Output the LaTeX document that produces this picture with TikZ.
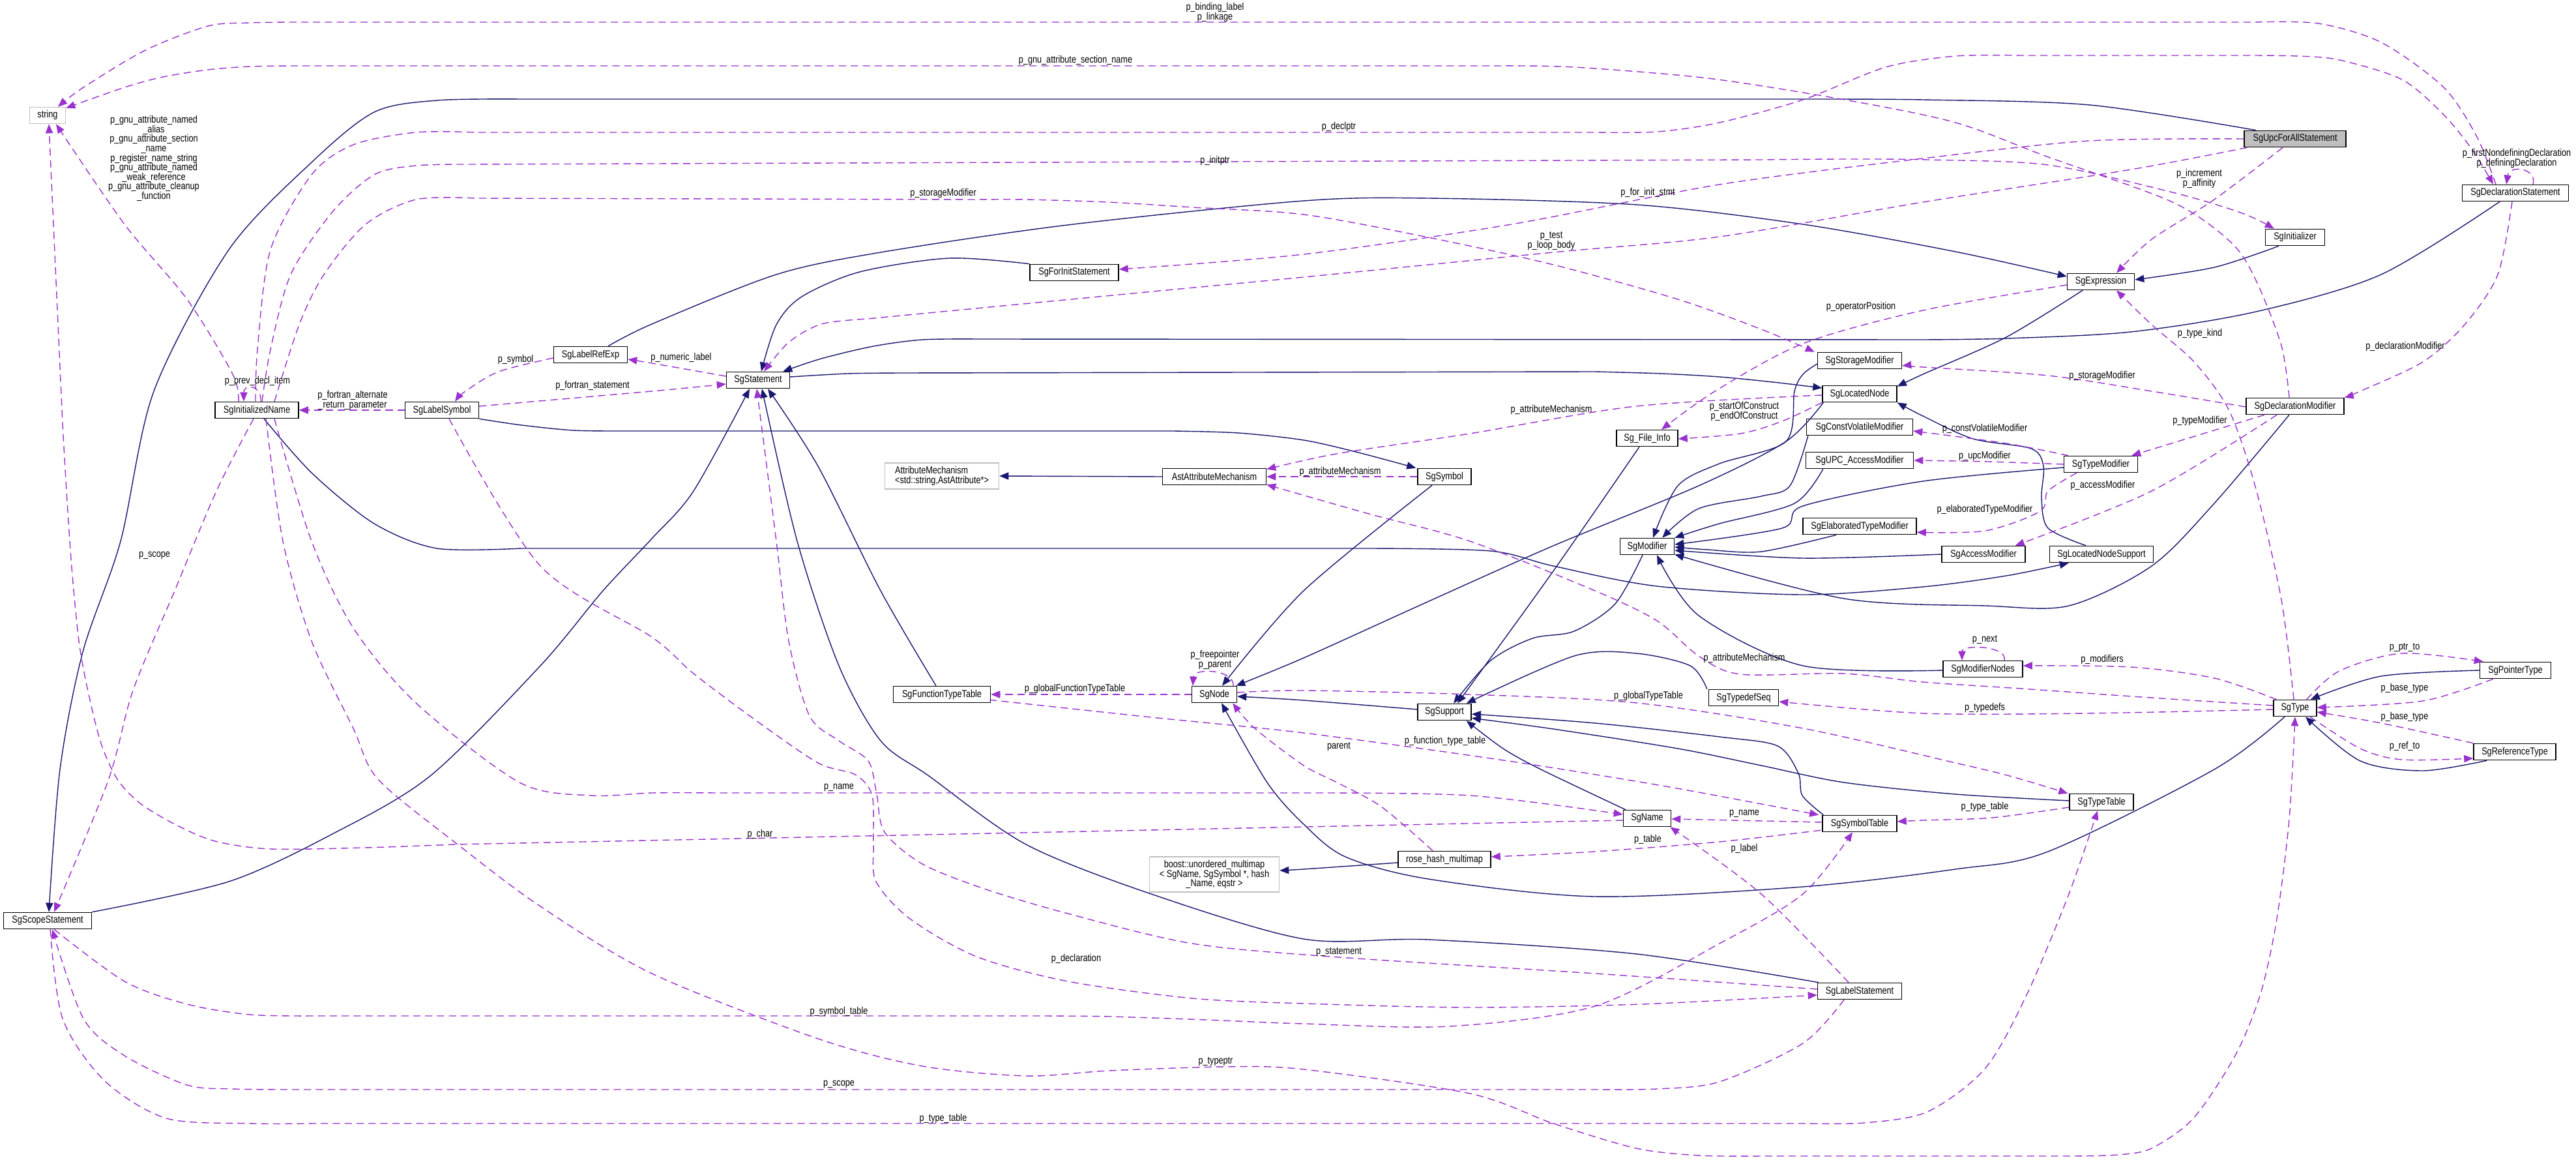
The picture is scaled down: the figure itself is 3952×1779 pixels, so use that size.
\documentclass[tikz,border=0pt]{standalone}
\usepackage{fontspec}
\setmainfont{Liberation Sans}[FakeStretch=0.82]
\usetikzlibrary{arrows.meta,calc}
\definecolor{myNavy}{HTML}{191970}
\definecolor{myPurp}{HTML}{9A32CD}
\definecolor{myGray}{HTML}{BFBFBF}
\newcommand\nodefnt{\fontsize{11}{10.6}\selectfont}
\newcommand\lblfnt{\fontsize{11}{10.6}\selectfont}
\tikzset{
  cls/.style={draw=black, line width=1pt, fill=white, minimum height=0.63cm, inner sep=1pt, font=\nodefnt},
  ext/.style={draw=myGray},
  bw/.style={minimum width=#1*0.025cm},
  inh/.style={draw=myNavy, line width=1pt, -{Triangle[length=10pt,width=8pt]}},
  dep/.style={draw=myPurp, line width=1pt, dash pattern=on 8pt off 5pt, -{Triangle[length=10pt,width=8pt]}},
  lbl/.style={font=\lblfnt, align=center, inner sep=0pt},
  sm/.style={smooth, tension=0.5}
}
\begin{document}
\begin{tikzpicture}[x=0.025cm,y=-0.025cm]
\useasboundingbox (0,0) rectangle (3952,1779);
\fill[white] (0,0) rectangle (3952,1779);
% ---------- nodes ----------
\node[cls,ext,bw=55] (str) at (73,177) {string};
\node[cls,bw=156,fill=myGray] (upc) at (3521,213) {SgUpcForAllStatement};
\node[cls,bw=163] (declst) at (3859,296) {SgDeclarationStatement};
\node[cls,bw=91] (init) at (3521,364) {SgInitializer};
\node[cls,bw=136] (forinit) at (1648,418) {SgForInitStatement};
\node[cls,bw=103] (expr) at (3223,432) {SgExpression};
\node[cls,bw=113] (lref) at (906,544) {SgLabelRefExp};
\node[cls,bw=97] (stmt) at (1163,583) {SgStatement};
\node[cls,bw=129] (stor) at (2853,553) {SgStorageModifier};
\node[cls,bw=128] (iname) at (394,629) {SgInitializedName};
\node[cls,bw=113] (lsym) at (678,629) {SgLabelSymbol};
\node[cls,bw=114] (lnode) at (2853,604) {SgLocatedNode};
\node[cls,bw=94] (finfo) at (2527,672) {Sg\_File\_Info};
\node[cls,bw=163] (cvm) at (2853,655) {SgConstVolatileModifier};
\node[cls,bw=165] (upcacc) at (2853,706) {SgUPC\_AccessModifier};
\node[cls,bw=150] (declmod) at (3521,623) {SgDeclarationModifier};
\node[cls,bw=113] (tmod) at (3223,712) {SgTypeModifier};
\node[cls,ext,bw=175,minimum height=1cm,align=left] (attrm) at (1445,730) {AttributeMechanism\\<std::string,AstAttribute*>};
\node[cls,bw=159] (astattr) at (1863,731) {AstAttributeMechanism};
\node[cls,bw=82] (sym) at (2216,731) {SgSymbol};
\node[cls,bw=174] (elab) at (2853,807) {SgElaboratedTypeModifier};
\node[cls,bw=83] (mod) at (2527,838) {SgModifier};
\node[cls,bw=128] (acc) at (3043,850) {SgAccessModifier};
\node[cls,bw=159] (lns) at (3224,850) {SgLocatedNodeSupport};
\node[cls,bw=122] (modn) at (3042,1026) {SgModifierNodes};
\node[cls,bw=109] (ptr) at (3859,1028) {SgPointerType};
\node[cls,bw=149] (ftt) at (1445,1065) {SgFunctionTypeTable};
\node[cls,bw=69] (sgnode) at (1863,1065) {SgNode};
\node[cls,bw=107] (tds) at (2675,1070) {SgTypedefSeq};
\node[cls,bw=66] (sgtype) at (3521,1086) {SgType};
\node[cls,bw=82] (supp) at (2216,1092) {SgSupport};
\node[cls,bw=126] (ref) at (3858,1153) {SgReferenceType};
\node[cls,bw=98] (ttab) at (3224,1230) {SgTypeTable};
\node[cls,bw=73] (sgname) at (2527,1255) {SgName};
\node[cls,bw=114] (stab) at (2853,1263) {SgSymbolTable};
\node[cls,bw=142] (rhm) at (2216,1318) {rose\_hash\_multimap};
\node[cls,ext,bw=199,minimum height=1.35cm,align=center] (boost) at (1863,1341) {boost::unordered\_multimap\\< SgName, SgSymbol *, hash\\\_Name, eqstr >};
\node[cls,bw=129] (lstmt) at (2853,1520) {SgLabelStatement};
\node[cls,bw=135] (scope) at (73,1412) {SgScopeStatement};
% ---------- inheritance (solid) ----------
\draw[inh] plot[sm] coordinates {($(upc.north)+(-60,0)$) (3206,161) (2950,153) (2750,152)} -- plot[sm] coordinates {(800,152) (670,154) (574,172) (478,249) (351,383) (236,600) (185,830) (127,1000) (92,1180) ($(scope.north)+(2,0)$)};
\draw[inh] plot[sm] coordinates {(scope.north east) (351,1352) (510,1279) (660,1190) (829,1021) (925,906) (1000,826) (1064,753) ($(stmt.south)+(-13,0)$)};
\draw[inh] plot[sm] coordinates {(forinit.north west) (1456,396) (1319,417) (1230,455) (1191,498) ($(stmt.north)+(5,0)$)};
\draw[inh] plot[sm] coordinates {($(declst.south)+(-24,0)$) (3653,421) (3461,478) (3269,509) (3080,519) (2950,521)} -- plot[sm] coordinates {(1500,520) (1415,521) (1340,531) (1260,550) ($(stmt.north east)+(-11,0)$)};
\draw[inh] plot[sm] coordinates {($(lstmt.north west)+(2,0)$) (2510,1463) (2191,1441) (2000,1440) (1766,1371) (1574,1295) (1425,1190) (1351,1136) (1287,1021) (1223,830) ($(stmt.south)+(6,0)$)};
\draw[inh] plot[sm] coordinates {($(ftt.north)+(-9,0)$) (1351,906) (1255,715) ($(stmt.south)+(15,0)$)};
\draw[inh] plot[sm] coordinates {($(stmt.east)+(0,-5)$) (1300,573) (1383,572)} -- plot[sm] coordinates {(2447,570) (2550,573) (2638,578) (2720,586) ($(lnode.west)+(0,-9)$)};
\draw[inh] plot[sm] coordinates {($(expr.south)+(-28,0)$) (3078,517) (2950,574) ($(lnode.north east)+(0,2)$)};
\draw[inh] plot[sm] coordinates {($(lref.north east)+(-30,0)$) (1000,497) (1191,421) (1351,387) (1638,345) (2000,308) (2191,304) (2511,314) (2766,344) (3000,386) ($(expr.west)+(0,-8)$)};
\draw[inh] plot[sm] coordinates {($(init.south)+(-25,0)$) (3397,410) ($(expr.east)+(0,-3)$)};
\draw[inh] plot[sm] coordinates {(lsym.south east) (800,652) (880,660) (960,661)} -- plot[sm] coordinates {(1800,661) (1900,664) (2000,675) (2080,693) ($(sym.north west)+(-2,0)$)};
\draw[inh] plot[sm] coordinates {($(sym.south)+(-19,0)$) (2000,906) ($(sgnode.north)+(12,0)$)};
\draw[inh] plot[sm] coordinates {($(lnode.south west)+(2,0)$) (2740,677) (2606,745) (2383,837) (2190,923) (2000,1009) ($(sgnode.north east)+(-2,0)$)};
\draw[inh] plot[sm] coordinates {($(stor.west)+(0,5)$) (2766,574) (2753,600) (2740,677) (2638,711) (2574,745) ($(mod.north)+(9,0)$)};
\draw[inh] plot[sm] coordinates {($(cvm.south west)+(3,0)$) (2746,745) (2702,761) (2606,780) ($(mod.north east)+(-19,0)$)};
\draw[inh] plot[sm] coordinates {($(upcacc.south west)+(27,0)$) (2753,772) (2638,803) (mod.north east)};
\draw[inh] plot[sm] coordinates {($(tmod.west)+(0,5)$) (2950,738) (2766,776) (2734,810) ($(mod.east)+(0,-3)$)};
\draw[inh] plot[sm] coordinates {($(elab.south west)+(52,0)$) (2702,846) (2620,843) ($(mod.east)+(0,1)$)};
\draw[inh] plot[sm] coordinates {(acc.west) (2766,856) ($(mod.east)+(0,6)$)};
\draw[inh] plot[sm] coordinates {($(declmod.south)+(-9,0)$) (3397,772) (3301,868) (3174,929) (3046,929) (2829,918) ($(mod.south east)+(0,-1)$)};
\draw[inh] plot[sm] coordinates {($(modn.west)+(0,2)$) (2766,1021) (2606,944) ($(mod.south)+(15,0)$)};
\draw[inh] plot[sm] coordinates {($(mod.south)+(-7,0)$) (2478,926) (2415,968) (2351,979) (2287,1013) ($(supp.north)+(14,0)$)};
\draw[inh] plot[sm] coordinates {($(finfo.south)+(-12,0)$) (2380,880) ($(supp.north)+(20,0)$)};
\draw[inh] plot[sm] coordinates {($(tds.north west)+(-2,0)$) (2593,1021) (2510,1002) (2415,1006) ($(supp.north east)+(-8,0)$)};
\draw[inh] plot[sm] coordinates {($(supp.west)+(0,-4)$) (2000,1074) ($(sgnode.east)+(0,3)$)};
\draw[inh] plot[sm] coordinates {($(sgname.north west)+(4,0)$) (2364,1180) (2306,1148) ($(supp.south east)+(-8,0)$)};
\draw[inh] plot[sm] coordinates {($(stab.north west)+(2,0)$) (2765,1220) (2759,1186) (2727,1144) (2638,1130) (2447,1109) ($(supp.east)+(0,3)$)};
\draw[inh] plot[sm] coordinates {($(ttab.west)+(0,-2)$) (3000,1218) (2829,1200) (2702,1174) (2574,1148) (2383,1118) ($(supp.south east)+(0,-4)$)};
\draw[inh] plot[sm] coordinates {($(sgtype.south)+(-16,0)$) (3397,1180) (3142,1306) (3000,1333) (2766,1360) (2447,1375) (2191,1348) (2064,1314) (2000,1264) (1944,1200) ($(sgnode.south)+(11,0)$)};
\draw[inh] plot[sm] coordinates {($(rhm.west)+(0,5)$) (2000,1333) ($(boost.east)+(0,-6)$)};
\draw[inh] (astattr.west) -- (attrm.east);
\draw[inh] plot[sm] coordinates {($(lns.north)+(-24,0)$) (3142,810) (3132,764) (3135,715) (3116,688) (3027,673) (2950,638) (lnode.south east)};
\draw[inh] plot[sm] coordinates {($(iname.south)+(11,0)$) (479,726) (574,803) (670,841) (800,841)} -- plot[sm] coordinates {(2100,841) (2287,845) (2383,868) (2542,899) (2766,912) (2950,900) (3078,883) ($(lns.south west)+(30,0)$)};
\draw[inh] plot[sm] coordinates {(ptr.west) (3653,1037) ($(sgtype.north east)+(-10,0)$)};
\draw[inh] plot[sm] coordinates {($(ref.south west)+(21,0)$) (3717,1182) (3621,1167) ($(sgtype.south)+(16,0)$)};
% ---------- usage (dashed) ----------
\draw[dep] plot[sm] coordinates {($(declst.north)+(-30,0)$) (3800,210) (3749,134) (3653,65) (3557,36) (3460,34)} -- plot[sm] coordinates {(450,34) (383,35) (319,40) (223,77) (128,134) ($(str.north)+(16,0)$)};
\draw[dep] plot[sm] coordinates {($(declmod.north)+(-9,0)$) (3500,530) (3461,430) (3423,372) (3333,310) (3140,240) (3000,188) (2830,153) (2620,120) (2415,103) (2300,101)} -- plot[sm] coordinates {(450,101) (383,102) (319,107) (250,118) (191,134) ($(str.north east)+(0,2)$)};
\draw[dep] plot[sm] coordinates {($(iname.north)+(-2,0)$) (395,536) (415,383) (478,268) (542,222) (638,203) (730,203)} -- plot[sm] coordinates {(2450,203) (2543,202) (2638,188) (2766,153) (2893,103) (3000,86) (3100,85)} -- plot[sm] coordinates {(3450,85) (3525,86) (3589,92) (3685,122) (3749,176) (3793,230) ($(declst.north)+(-34,0)$)};
\draw[dep] plot[sm] coordinates {($(iname.north)+(8,0)$) (415,536) (446,421) (510,325) (574,268) (638,254) (720,252)} -- plot[sm] coordinates {(2700,245) (2829,244) (2957,245) (3142,253) (3333,295) (3440,327) ($(init.north west)+(14,0)$)};
\draw[dep] plot[sm] coordinates {($(iname.north)+(27,0)$) (459,498) (497,421) (561,344) (638,306) (730,304)} -- plot[sm] coordinates {(1500,306) (1574,306) (1700,310) (1830,318) (2000,329) (2191,364) (2383,406) (2574,459) (2702,505) ($(stor.north west)+(-4,0)$)};
\draw[dep] plot[sm] coordinates {($(iname.north)+(-28,0)$) (357,574) (287,459) (191,344) ($(str.south)+(13,0)$)};
\draw[dep] ($(iname.north)+(6,0)$) .. controls (402,590) and (374,588) .. ($(iname.north)+(-20,0)$);
\draw[dep] (lsym.west) -- (iname.east);
\draw[dep] plot[sm] coordinates {($(lref.west)+(0,5)$) (765,570) (714,600) ($(lsym.north)+(20,0)$)};
\draw[dep] plot[sm] coordinates {($(lsym.east)+(0,-6)$) (1000,600) ($(stmt.west)+(0,6)$)};
\draw[dep] plot[sm] coordinates {($(stmt.west)+(0,-6)$) (1000,557) ($(lref.east)+(0,7)$)};
\draw[dep] plot[sm] coordinates {(upc.west) (3205,216) (2950,243) (2638,283) (2319,344) (2000,390) ($(forinit.east)+(0,-5)$)};
\draw[dep] plot[sm] coordinates {($(upc.south west)+(5,0)$) (3269,260) (2950,310) (2638,363) (2383,387) (2000,425) (1800,444)} -- plot[sm] coordinates {(1330,489) (1260,497) (1210,525) ($(stmt.north)+(9,0)$)};
\draw[dep] plot[sm] coordinates {($(upc.south)+(-19,0)$) (3397,306) (3301,367) ($(expr.north)+(24,0)$)};
\draw[dep] plot[sm] coordinates {($(expr.west)+(0,5)$) (2950,476) (2766,527) (2631,600) ($(finfo.north)+(22,0)$)};
\draw[dep] plot[sm] coordinates {($(declmod.west)+(0,1)$) (3301,600) (3142,576) (2950,563) ($(stor.east)+(0,8)$)};
\draw[dep] plot[sm] coordinates {($(declst.south)+(-5,0)$) (3832,421) (3781,498) (3717,555) (3621,600) (declmod.north east)};
\draw[dep] plot[sm] coordinates {($(sgtype.north)+(-2,0)$) (3500,920) (3461,750) (3420,630) (3366,555) (3301,498) ($(expr.south)+(24,0)$)};
\draw[dep] plot[sm] coordinates {($(tmod.north west)+(7,0)$) (3078,680) ($(cvm.east)+(0,6)$)};
\draw[dep] plot[sm] coordinates {(tmod.west) (3050,708) (upcacc.east)};
\draw[dep] ($(declmod.south)+(-47,0)$) -- ($(tmod.north east)+(-10,0)$);
\draw[dep] plot[sm] coordinates {($(declmod.south)+(-28,0)$) (3301,753) ($(acc.north east)+(-16,0)$)};
\draw[dep] plot[sm] coordinates {($(tmod.south)+(-37,0)$) (3142,753) (3130,784) (3046,814) ($(elab.south east)+(0,-4)$)};
\draw[dep] ($(modn.north)+(33,0)$) .. controls (3080,990) and (3010,988) .. ($(modn.north)+(-32,0)$);
\draw[dep] plot[sm] coordinates {($(sgtype.north west)+(5,0)$) (3397,1040) (3269,1023) ($(modn.east)+(0,-5)$)};
\draw[dep] plot[sm] coordinates {($(sgtype.west)+(0,-4)$) (3300,1070) (3100,1056) (2950,1046) (2829,1033) (2670,1034) (2606,1006) (2542,952) (2447,906) (2255,830) (2100,788) ($(astattr.south east)+(0,-1)$)};
\draw[dep] plot[sm] coordinates {($(sgtype.west)+(0,2)$) (3200,1094) (2950,1094) ($(tds.east)+(0,6)$)};
\draw[dep] plot[sm] coordinates {($(sgtype.north east)+(-16,0)$) (3589,1029) (3685,1002) ($(ptr.north west)+(6,0)$)};
\draw[dep] plot[sm] coordinates {($(ptr.south west)+(21,0)$) (3717,1075) ($(sgtype.east)+(0,-1)$)};
\draw[dep] plot[sm] coordinates {(ref.north west) (3653,1109) ($(sgtype.east)+(0,6)$)};
\draw[dep] plot[sm] coordinates {($(sgtype.south)+(23,0)$) (3621,1148) (3685,1165) ($(ref.west)+(0,10)$)};
\draw[dep] plot[sm] coordinates {($(lnode.west)+(0,2)$) (2510,623) (2255,665) (2050,696) ($(astattr.north east)+(0,2)$)};
\draw[dep] plot[sm] coordinates {(lnode.south west) (2734,646) (2670,665) ($(finfo.east)+(0,1)$)};
\draw[dep] (sym.west) -- (astattr.east);
\draw[dep] (sgnode.west) -- (ftt.east);
\draw[dep] ($(sgnode.north east)+(-6,0)$) .. controls (1893,1026) and (1832,1024) .. ($(sgnode.north west)+(2,0)$);
\draw[dep] plot[sm] coordinates {($(sgnode.east)+(0,-3)$) (2000,1059) (2255,1065) (2511,1078) (2766,1117) (3000,1170) (3083,1190) ($(ttab.north west)+(-2,0)$)};
\draw[dep] plot[sm] coordinates {($(ftt.south east)+(-2,-5)$) (1766,1100) (2000,1124) (2300,1165) (2550,1205) ($(stab.north west)+(-5,0)$)};
\draw[dep] plot[sm] coordinates {($(rhm.north)+(-18,0)$) (2119,1237) (2051,1200) (2000,1174) (1925,1117) ($(sgnode.south east)+(-7,0)$)};
\draw[dep] ($(stab.west)+(0,-2)$) -- ($(sgname.east)+(0,1)$);
\draw[dep] plot[sm] coordinates {($(stab.south west)+(-2,-3)$) (2638,1291) (2447,1306) ($(rhm.east)+(0,-4)$)};
\draw[dep] plot[sm] coordinates {($(lstmt.north)+(-17,0)$) (2702,1371) ($(sgname.south east)+(-2,0)$)};
\draw[dep] plot[sm] coordinates {($(ttab.west)+(0,8)$) (3057,1254) (2950,1258) ($(stab.east)+(0,-3)$)};
\draw[dep] plot[sm] coordinates {($(iname.south)+(27,0)$) (478,830) (542,963) (638,1078) (797,1200) (906,1220) (1000,1216) (1100,1216)} -- plot[sm] coordinates {(2000,1216) (2255,1220) ($(sgname.west)+(0,-6)$)};
\draw[dep] ($(sgname.west)+(0,3)$) -- plot[sm] coordinates {(700,1295) (560,1300) (415,1302) (330,1290) (270,1265) (215,1232) (180,1195) (155,1140) (135,1060) (121,983) (110,870) (102,753) (96,650)} -- ($(str.south)+(2,0)$);
\draw[dep] plot[sm] coordinates {($(iname.south)+(-5,0)$) (332,753) (268,906) (204,1059) (166,1197) ($(scope.north)+(10,0)$)};
\draw[dep] plot[sm] coordinates {($(iname.south)+(14,0)$) (434,830) (478,983) (542,1117) (580,1195) (702,1295) (829,1390) (1000,1493) (1255,1593) (1415,1635) (1574,1650) (1702,1642) (1880,1636) (2000,1640) (2255,1677) (2383,1723) (2510,1761) (2606,1772) (2700,1773)} -- plot[sm] coordinates {(3180,1773) (3250,1771) (3301,1761) (3365,1715) (3429,1619) (3468,1524) (3493,1409) (3512,1256) (sgtype.south)};
\draw[dep] plot[sm] coordinates {($(scope.south)+(10,0)$) (191,1505) (287,1540) (383,1556) (480,1558)} -- plot[sm] coordinates {(1600,1558) (1702,1559) (1850,1564) (2000,1570) (2223,1574) (2447,1543) (2638,1447) (2766,1371) ($(stab.south)+(-11,0)$)};
\draw[dep] plot[sm] coordinates {($(lstmt.south)+(-24,0)$) (2766,1600) (2638,1659) (2542,1670) (2450,1671)} -- plot[sm] coordinates {(440,1671) (357,1670) (287,1664) (191,1619) (128,1562) ($(scope.south)+(7,0)$)};
\draw[dep] plot[sm] coordinates {($(scope.south)+(4,0)$) (96,1562) (160,1657) (255,1715) (383,1723) (480,1723)} -- plot[sm] coordinates {(2770,1723) (2861,1722) (2957,1705) (3046,1638) (3110,1524) (3174,1371) ($(ttab.south)+(-6,0)$)};
\draw[dep] plot[sm] coordinates {($(lstmt.west)+(0,-3)$) (2447,1493) (2054,1468) (1829,1447) (1638,1401) (1510,1363) (1415,1325) (1357,1276) (1345,1218) (1332,1167) (1287,1136) (1242,1098) (1210,983) (1191,830) ($(stmt.south)+(-2,0)$)};
\draw[dep] plot[sm] coordinates {($(lsym.south)+(11,0)$) (829,868) (1000,977) (1064,1033) (1160,1105) (1255,1170) (1312,1188) (1338,1220) (1340,1295) (1344,1352) (1396,1409) (1498,1467) (1638,1505) (1829,1531) (2000,1539) (2255,1545) (2520,1540) ($(lstmt.west)+(0,6)$)};
\draw[dep] ($(declst.north)+(27,0)$) .. controls (3893,258) and (3850,252) .. ($(declst.north)+(-14,0)$);
% ---------- labels ----------
\node[lbl] (L1) at (1864,19) {p\_binding\_label\\p\_linkage};
\node[lbl] (L2) at (1650,93) {p\_gnu\_attribute\_section\_name};
\node[lbl] (L3) at (2054,195) {p\_declptr};
\node[lbl] (L4) at (1864,247) {p\_initptr};
\node[lbl] (L5) at (1447,297) {p\_storageModifier};
\node[lbl,font=\fontsize{11}{10.4}\selectfont] (L6) at (236,243) {p\_gnu\_attribute\_named\\\_alias\\p\_gnu\_attribute\_section\\\_name\\p\_register\_name\_string\\p\_gnu\_attribute\_named\\\_weak\_reference\\p\_gnu\_attribute\_cleanup\\\_function};
\node[lbl] (L7) at (395,584) {p\_prev\_decl\_item};
\node[lbl] (L8) at (541,614) {p\_fortran\_alternate\\\_return\_parameter};
\node[lbl] (L9) at (791,551) {p\_symbol};
\node[lbl] (L10) at (909,592) {p\_fortran\_statement};
\node[lbl] (L11) at (1045,549) {p\_numeric\_label};
\node[lbl] (L12) at (2528,296) {p\_for\_init\_stmt};
\node[lbl] (L13) at (2380,370) {p\_test\\p\_loop\_body};
\node[lbl] (L14) at (3374,274) {p\_increment\\p\_affinity};
\node[lbl] (L15) at (2855,471) {p\_operatorPosition};
\node[lbl] (L16) at (3225,576) {p\_storageModifier};
\node[lbl] (L17) at (3690,531) {p\_declarationModifier};
\node[lbl] (L18) at (3375,512) {p\_type\_kind};
\node[lbl] (L19) at (3045,657) {p\_constVolatileModifier};
\node[lbl] (L20) at (3045,699) {p\_upcModifier};
\node[lbl] (L21) at (3375,645) {p\_typeModifier};
\node[lbl] (L22) at (3226,744) {p\_accessModifier};
\node[lbl] (L23) at (3045,781) {p\_elaboratedTypeModifier};
\node[lbl] (L24) at (3045,981) {p\_next};
\node[lbl] (L25) at (3225,1011) {p\_modifiers};
\node[lbl] (L26) at (2676,1009) {p\_attributeMechanism};
\node[lbl] (L27) at (3045,1085) {p\_typedefs};
\node[lbl] (L28) at (3689,993) {p\_ptr\_to};
\node[lbl] (L29) at (3689,1055) {p\_base\_type};
\node[lbl] (L30) at (3689,1099) {p\_base\_type};
\node[lbl] (L31) at (3689,1144) {p\_ref\_to};
\node[lbl] (L32) at (2380,628) {p\_attributeMechanism};
\node[lbl] (L33) at (2676,631) {p\_startOfConstruct\\p\_endOfConstruct};
\node[lbl] (L34) at (2056,723) {p\_attributeMechanism};
\node[lbl] (L35) at (1649,1056) {p\_globalFunctionTypeTable};
\node[lbl] (L36) at (1864,1012) {p\_freepointer\\p\_parent};
\node[lbl] (L37) at (2529,1067) {p\_globalTypeTable};
\node[lbl] (L38) at (2217,1136) {p\_function\_type\_table};
\node[lbl] (L39) at (2054,1145) {parent};
\node[lbl] (L40) at (2676,1248) {p\_name};
\node[lbl] (L41) at (2528,1287) {p\_table};
\node[lbl] (L42) at (2676,1301) {p\_label};
\node[lbl] (L43) at (3045,1237) {p\_type\_table};
\node[lbl] (L44) at (1287,1208) {p\_name};
\node[lbl] (L45) at (1166,1279) {p\_char};
\node[lbl] (L46) at (237,852) {p\_scope};
\node[lbl] (L47) at (1865,1628) {p\_typeptr};
\node[lbl] (L48) at (1287,1551) {p\_symbol\_table};
\node[lbl] (L49) at (1287,1663) {p\_scope};
\node[lbl] (L50) at (1447,1715) {p\_type\_table};
\node[lbl] (L51) at (2054,1460) {p\_statement};
\node[lbl] (L52) at (1651,1470) {p\_declaration};
\node[lbl] (L53) at (3861,243) {p\_firstNondefiningDeclaration\\p\_definingDeclaration};
\end{tikzpicture}
\end{document}
